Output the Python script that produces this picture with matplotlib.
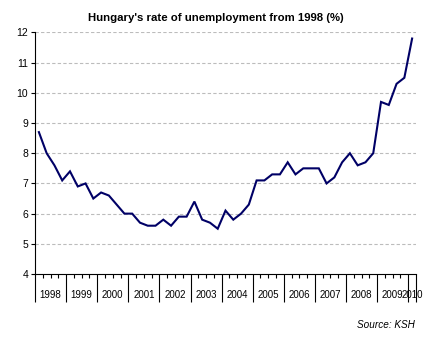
import numpy as np
import matplotlib
matplotlib.use("Agg")
import matplotlib.pyplot as plt

# Quarterly unemployment rate (%), 1998 Q1 - 2010 Q1
years = [str(y) for y in range(1998, 2011)]
rate = [8.7, 8.0, 7.6, 7.1,
        7.4, 6.9, 7.0, 6.5,
        6.7, 6.6, 6.3, 6.0,
        6.0, 5.7, 5.6, 5.6,
        5.8, 5.6, 5.9, 5.9,
        6.4, 5.8, 5.7, 5.5,
        6.1, 5.8, 6.0, 6.3,
        7.1, 7.1, 7.3, 7.3,
        7.7, 7.3, 7.5, 7.5,
        7.5, 7.0, 7.2, 7.7,
        8.0, 7.6, 7.7, 8.0,
        9.7, 9.6, 10.3, 10.5,
        11.8]
yticks = [4, 5, 6, 7, 8, 9, 10, 11, 12]

plt.rcParams['font.family'] = ['Liberation Sans', 'DejaVu Sans']

fig = plt.figure(figsize=(4.32, 3.41), dpi=100)
ax = fig.add_axes([35 / 432, 1 - 274 / 341, 381 / 432, 241.5 / 341])

n = len(rate)
x = np.arange(n)
ax.plot(x, rate, color='#000066', lw=1.5, solid_joinstyle='miter', zorder=3)

ax.set_xlim(-0.5, n - 0.5)
ax.set_ylim(yticks[0], yticks[-1])

# y axis
ax.set_yticks(yticks)
ax.tick_params(axis='y', direction='out', length=3, width=0.8, labelsize=7.5, pad=2)
for v in yticks[1:]:
    ax.axhline(v, color='#bcbcbc', lw=0.8, ls=(0, (3, 2)), zorder=1)

# x axis: short ticks per quarter, long ticks between years
year_edges = [-0.5 + 4 * j for j in range(len(years))] + [n - 0.5]
ax.set_xticks(year_edges)
ax.set_xticklabels([])
ax.set_xticks(np.arange(n + 1) - 0.5, minor=True)
ax.tick_params(axis='x', which='major', direction='out', length=20, width=0.8)
ax.tick_params(axis='x', which='minor', direction='out', length=3, width=0.8)

for j, yr in enumerate(years):
    lo = year_edges[j]
    hi = year_edges[j + 1]
    ax.text((lo + hi) / 2, -0.087, yr, transform=ax.get_xaxis_transform(),
            ha='center', va='center', fontsize=7)

for s in ['top', 'right']:
    ax.spines[s].set_visible(False)
ax.spines['left'].set_linewidth(0.8)
ax.spines['bottom'].set_linewidth(0.8)

fig.text(216 / 432, 1 - 18 / 341, "Hungary's rate of unemployment from 1998 (%)",
         ha='center', va='center', fontsize=8.2, fontweight='bold')
fig.text(415 / 432, 1 - 325 / 341, "Source: KSH", ha='right', va='center',
         fontsize=7.2, style='italic')

fig.savefig('out.png', dpi=100)
